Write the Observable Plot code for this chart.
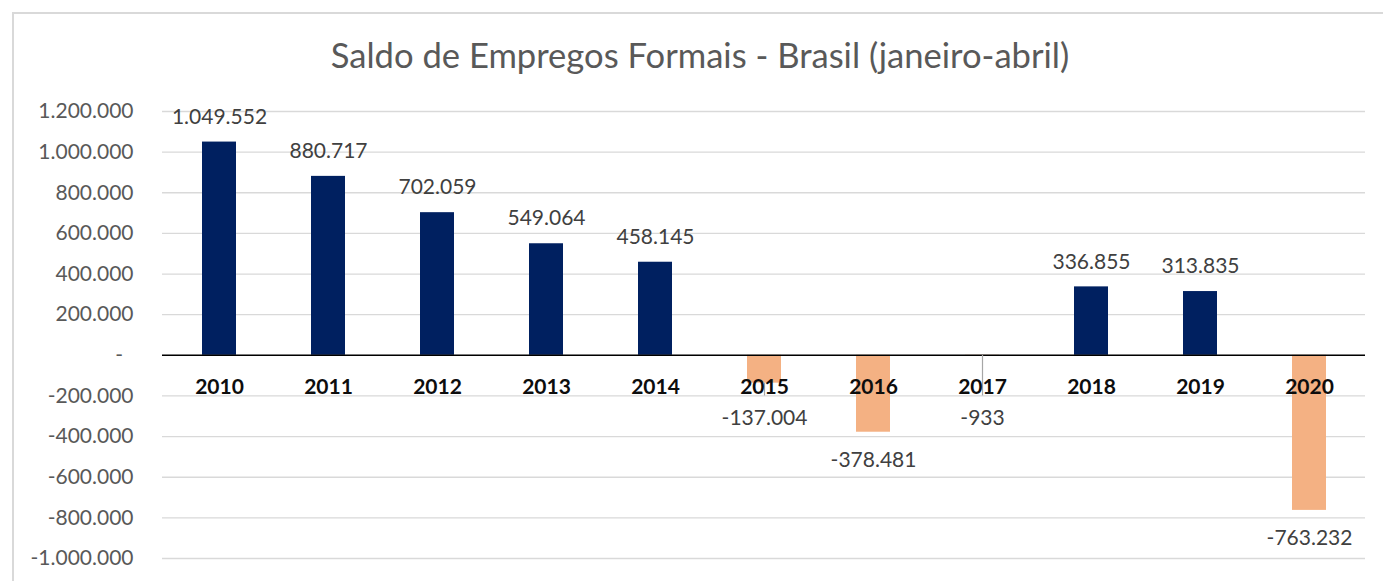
<!DOCTYPE html>
<html><head><meta charset="utf-8">
<script src="https://cdn.jsdelivr.net/npm/d3@7"></script>
<script src="https://cdn.jsdelivr.net/npm/@observablehq/plot@0.6"></script>
<style>
html,body{margin:0;padding:0;background:#fff}
body{width:1383px;height:581px;overflow:hidden;position:relative;font-family:Lato,sans-serif}
#frame{position:absolute;left:12px;top:12px;width:1400px;height:600px;border-left:2px solid #d9d9d9;border-top:2px solid #d9d9d9;box-sizing:border-box}
#title{position:absolute;left:0;width:1400px;top:38px;text-align:center;font-size:34.6px;line-height:34px;color:#595959;font-family:Lato,sans-serif;white-space:nowrap}
#chart{position:absolute;left:0;top:0}
</style>
</head><body>
<div id="frame"></div>
<div id="title">Saldo de Empregos Formais - Brasil (janeiro-abril)</div>
<div id="chart"></div>
<script>
const years = ["2010","2011","2012","2013","2014","2015","2016","2017","2018","2019","2020"];
const saldo = [1049552, 880717, 702059, 549064, 458145, -137004, -378481, -933, 336855, 313835, -763232];
const yTicks = [-1000000,-800000,-600000,-400000,-200000,0,200000,400000,600000,800000,1000000,1200000];
const leaderEnd = -200000;

const data = years.map((y,i)=>({year:y, value:saldo[i]}));
const loc = d3.formatLocale({decimal:",", thousands:".", grouping:[3], currency:["R$",""], minus:"-"});
const fmt = loc.format(",d");
const tickFmt = v => v === 0 ? "-\u2002" : fmt(v);
const small = d => d.value < 0 && d.value > leaderEnd;

const plot = Plot.plot({
  width: 1383, height: 581,
  marginLeft: 162, marginRight: 18, marginTop: 111, marginBottom: 23,
  style: {background:"transparent", fontFamily:"Lato, sans-serif", fontSize:"21px", color:"#595959"},
  x: {domain: years, paddingInner: 0.69, paddingOuter: 0.345, axis: null},
  y: {domain: [-1000000, 1200000], label: null},
  color: {type: "identity"},
  marks: [
    Plot.gridY(yTicks, {stroke:"#d9d9d9", strokeOpacity:1, strokeWidth:1.3}),
    Plot.axisY(yTicks, {tickSize:0, tickPadding:29, tickFormat:tickFmt, label:null, fontSize:21}),
    Plot.barY(data, {x:"year", y:"value", fill: d => d.value >= 0 ? "#002060" : "#F4B183"}),
    Plot.ruleY([0], {stroke:"#000", strokeWidth:1.5}),
    Plot.ruleX(data.filter(small), {x:"year", y1:"value", y2: d => leaderEnd, stroke:"#a6a6a6", strokeWidth:1.2}),
    Plot.text(data, {x:"year", y: d => 0, dy:32, text:"year", fontWeight:"bold", fill:"#0d0d0d", fontSize:21}),
    Plot.text(data.filter(d => d.value >= 0), {x:"year", y:"value", dy:-25, text: d => fmt(d.value), fill:"#404040", fontSize:21}),
    Plot.text(data.filter(d => d.value < 0 && !small(d)), {x:"year", y:"value", dy:28, text: d => fmt(d.value), fill:"#404040", fontSize:21}),
    Plot.text(data.filter(small), {x:"year", y: d => leaderEnd, dy:22, text: d => fmt(d.value), fill:"#404040", fontSize:21})
  ]
});
document.getElementById("chart").appendChild(plot);
</script>
</body></html>
